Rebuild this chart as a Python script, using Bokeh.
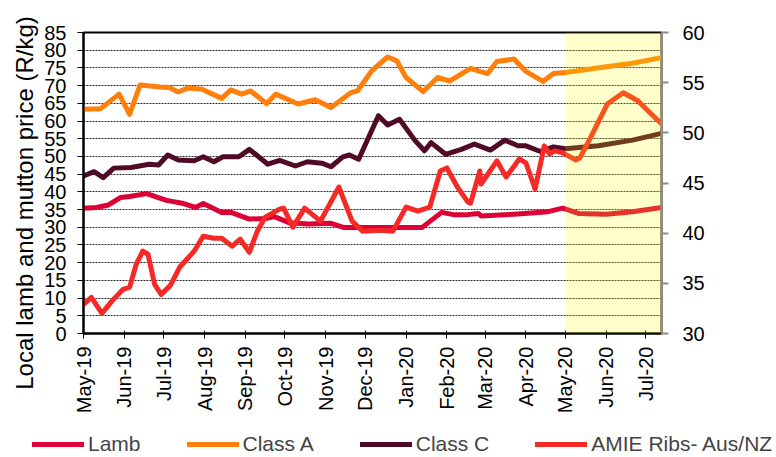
import math
from datetime import datetime
from bokeh.plotting import figure
from bokeh.layouts import row, column
from bokeh.models import (Range1d, LinearAxis, FixedTicker, SingleIntervalTicker,
                          DatetimeTickFormatter, BoxAnnotation, Legend, LegendItem, Label)
from bokeh.embed import file_html
from bokeh.resources import INLINE

# ---------------- data ----------------
month_starts = ["2019-05-01", "2019-06-01", "2019-07-01", "2019-08-01", "2019-09-01",
                "2019-10-01", "2019-11-01", "2019-12-01", "2020-01-01", "2020-02-01",
                "2020-03-01", "2020-04-01", "2020-05-01", "2020-06-01", "2020-07-01"]
month_labels = ["May-19", "Jun-19", "Jul-19", "Aug-19", "Sep-19", "Oct-19", "Nov-19",
                "Dec-19", "Jan-20", "Feb-20", "Mar-20", "Apr-20", "May-20", "Jun-20", "Jul-20"]
x_start = "2019-05-01"
x_end = "2020-07-13"
forecast_start = "2020-05-01"

lamb_dates = ["2019-05-01", "2019-05-11", "2019-05-20", "2019-05-29", "2019-06-05", "2019-06-18",
              "2019-07-03", "2019-07-16", "2019-07-25", "2019-07-31", "2019-08-14", "2019-08-21",
              "2019-09-04", "2019-09-17", "2019-09-23", "2019-10-04", "2019-10-19", "2019-11-05",
              "2019-11-15", "2020-01-13", "2020-01-28", "2020-02-07", "2020-02-15", "2020-02-25",
              "2020-02-27", "2020-03-23", "2020-04-18", "2020-04-29", "2020-05-11", "2020-06-01",
              "2020-06-21", "2020-07-13"]
lamb_values = [35.4, 35.6, 36.3, 38.4, 38.7, 39.5, 37.6, 36.7, 35.6, 36.7, 34.2, 34.2,
               32.3, 32.5, 33.0, 31.3, 30.9, 31.1, 29.9, 29.9, 34.2, 33.5, 33.5, 33.9,
               33.2, 33.7, 34.4, 35.4, 33.9, 33.7, 34.4, 35.6]

class_a_dates = ["2019-05-01", "2019-05-14", "2019-05-28", "2019-06-05", "2019-06-13", "2019-06-28",
                 "2019-07-05", "2019-07-12", "2019-07-19", "2019-07-30", "2019-08-14", "2019-08-21",
                 "2019-08-29", "2019-09-05", "2019-09-17", "2019-09-24", "2019-10-11", "2019-10-24",
                 "2019-11-05", "2019-11-20", "2019-11-25", "2019-12-06", "2019-12-18", "2019-12-25",
                 "2020-01-01", "2020-01-14", "2020-01-25", "2020-02-03", "2020-02-19", "2020-02-26",
                 "2020-03-03", "2020-03-10", "2020-03-23", "2020-04-01", "2020-04-14", "2020-04-22",
                 "2020-05-01", "2020-06-01", "2020-06-21", "2020-07-13"]
class_a_values = [63.3, 63.5, 67.6, 61.9, 70.2, 69.6, 69.5, 68.2, 69.3, 69.0, 66.4, 68.8,
                  67.6, 68.5, 64.9, 67.6, 64.8, 66.0, 63.8, 68.0, 68.5, 74.2, 78.1, 77.0,
                  72.3, 68.3, 72.3, 71.3, 74.9, 74.0, 73.4, 76.8, 77.5, 74.0, 71.2, 73.4,
                  73.7, 75.3, 76.3, 77.9]

class_c_dates = ["2019-05-01", "2019-05-09", "2019-05-16", "2019-05-24", "2019-06-06", "2019-06-20",
                 "2019-06-27", "2019-07-04", "2019-07-12", "2019-07-24", "2019-07-31", "2019-08-08",
                 "2019-08-15", "2019-08-27", "2019-09-04", "2019-09-18", "2019-09-27", "2019-10-09",
                 "2019-10-18", "2019-10-29", "2019-11-05", "2019-11-14", "2019-11-19", "2019-11-26",
                 "2019-12-11", "2019-12-18", "2019-12-27", "2020-01-08", "2020-01-15", "2020-01-20",
                 "2020-01-31", "2020-02-12", "2020-02-22", "2020-03-05", "2020-03-16", "2020-03-26",
                 "2020-04-01", "2020-04-12", "2020-04-22", "2020-05-01", "2020-05-26", "2020-06-21",
                 "2020-07-13"]
class_c_values = [44.5, 45.7, 44.0, 46.7, 46.9, 47.8, 47.6, 50.4, 49.0, 48.8, 49.9, 48.5,
                  49.9, 49.9, 52.0, 47.8, 48.9, 47.3, 48.5, 48.1, 47.1, 49.9, 50.4, 49.2,
                  61.5, 58.9, 60.5, 54.4, 51.6, 53.9, 50.6, 52.0, 53.5, 51.8, 54.6, 53.0,
                  53.0, 51.4, 52.7, 52.2, 53.0, 54.6, 56.5]

amie_dates = ["2019-05-01", "2019-05-07", "2019-05-15", "2019-05-23", "2019-05-31", "2019-06-05",
              "2019-06-10", "2019-06-15", "2019-06-19", "2019-06-24", "2019-06-29", "2019-07-06",
              "2019-07-13", "2019-07-24", "2019-07-31", "2019-08-08", "2019-08-14", "2019-08-22",
              "2019-08-28", "2019-09-04", "2019-09-10", "2019-09-16", "2019-09-27", "2019-09-30",
              "2019-10-07", "2019-10-16", "2019-10-28", "2019-11-11", "2019-11-21", "2019-11-29",
              "2019-12-13", "2019-12-22", "2020-01-01", "2020-01-10", "2020-01-19", "2020-01-27",
              "2020-02-01", "2020-02-09", "2020-02-17", "2020-02-19", "2020-02-26", "2020-02-27",
              "2020-03-10", "2020-03-17", "2020-03-27", "2020-04-01", "2020-04-08", "2020-04-15",
              "2020-04-19", "2020-04-23", "2020-04-29", "2020-05-09", "2020-05-12", "2020-05-20",
              "2020-06-02", "2020-06-14", "2020-06-25", "2020-07-05", "2020-07-13"]
amie_values = [32.9, 33.6, 32.0, 33.3, 34.4, 34.6, 36.9, 38.2, 37.9, 34.9, 33.9, 34.8,
               36.6, 38.2, 39.7, 39.5, 39.5, 38.7, 39.4, 38.1, 40.2, 41.6, 42.4, 42.5,
               40.6, 42.5, 41.2, 44.6, 41.2, 40.2, 40.3, 40.2, 42.6, 42.2, 42.6, 46.2,
               46.5, 44.6, 43.1, 43.0, 46.2, 44.9, 47.2, 45.6, 47.4, 47.0, 44.4, 48.7,
               47.9, 48.2, 48.0, 47.3, 47.5, 49.5, 52.9, 54.0, 53.2, 51.9, 50.9]

left_range = (0, 85)
right_range = (30, 60)
left_title = "Local lamb and mutton price (R/kg)"

series_names = ["Lamb", "Class A", "Class C", "AMIE Ribs- Aus/NZ"]
series_colors = ["#DC0036", "#FF7F0A", "#500A26", "#F52A26"]

# ---------------- helpers ----------------
EPOCH = datetime(1970, 1, 1)


def d(s):
    return datetime.strptime(s, "%Y-%m-%d")


def ms(s):
    return int((d(s) - EPOCH).total_seconds() * 1000)


series = [(lamb_dates, lamb_values, "default"),
          (class_a_dates, class_a_values, "default"),
          (class_c_dates, class_c_values, "default"),
          (amie_dates, amie_values, "right")]

FONT = "Liberation Sans"
W, H = 776, 457
TITLE_W = 40
LEG_H = 34
MAIN_H = H - LEG_H

# ---------------- main chart ----------------
p = figure(width=W - TITLE_W, height=MAIN_H, x_axis_type="datetime", output_backend="svg",
           toolbar_location=None, title=None,
           x_range=Range1d(d(x_start), d(x_end)),
           y_range=Range1d(*left_range),
           min_border_left=83 - TITLE_W, min_border_right=115, min_border_top=32,
           min_border_bottom=MAIN_H - 333)
p.background_fill_color = "white"
p.border_fill_color = "white"
p.outline_line_color = "black"
p.outline_line_width = 2

p.extra_y_ranges = {"right": Range1d(*right_range)}

# grid
p.xgrid.visible = False
p.ygrid.ticker = SingleIntervalTicker(interval=5)
p.ygrid.grid_line_color = "#000000"
p.ygrid.grid_line_dash = "2 1"
p.ygrid.grid_line_width = 1
p.ygrid.grid_line_alpha = 0.85

# x axis
xa = p.xaxis[0]
xa.ticker = FixedTicker(ticks=[ms(s) for s in month_starts])
fmt = "%b-%y"
xa.formatter = DatetimeTickFormatter(milliseconds=fmt, seconds=fmt, minsec=fmt, minutes=fmt,
                                     hourmin=fmt, hours=fmt, days=fmt, months=fmt, years=fmt)
xa.major_label_overrides = {ms(s): lab for s, lab in zip(month_starts, month_labels)}
xa.major_label_orientation = math.pi / 2
xa.major_label_text_font = FONT
xa.major_label_text_font_size = "20px"
xa.major_label_text_color = "black"
xa.major_label_standoff = 8
xa.axis_line_color = "black"
xa.axis_line_width = 2
xa.major_tick_line_color = "black"
xa.major_tick_line_width = 1
xa.major_tick_in = 3
xa.major_tick_out = 5
xa.minor_tick_line_color = None

# left axis
ya = p.yaxis[0]
ya.ticker = SingleIntervalTicker(interval=5)
ya.major_label_text_font = FONT
ya.major_label_text_font_size = "20px"
ya.major_label_text_color = "black"
ya.major_label_standoff = 11
ya.axis_line_color = "black"
ya.axis_line_width = 2
ya.major_tick_line_color = "black"
ya.major_tick_in = 0
ya.major_tick_out = 6
ya.minor_tick_line_color = None

# right axis
ra = LinearAxis(y_range_name="right", ticker=SingleIntervalTicker(interval=5))
ra.major_label_text_font = FONT
ra.major_label_text_font_size = "20px"
ra.major_label_text_color = "black"
ra.major_label_standoff = 14
ra.axis_line_color = "#8C8C8C"
ra.axis_line_width = 2
ra.major_tick_line_color = "#8C8C8C"
ra.major_tick_line_width = 2
ra.major_tick_in = 0
ra.major_tick_out = 7
ra.minor_tick_line_color = None
p.add_layout(ra, "right")

# lines
line_kw = dict(line_width=5, line_join="round", line_cap="round")
for (dates, vals, rng), col in zip(series, series_colors):
    p.line([d(s) for s in dates], vals, line_color=col, y_range_name=rng, **line_kw)

# forecast shading (drawn over the lines, semi-transparent)
box = BoxAnnotation(left=d(forecast_start), fill_color="#FFFF00", fill_alpha=0.2,
                    line_color=None)
p.add_layout(box)

# ---------------- left title strip ----------------
pt = figure(width=TITLE_W, height=MAIN_H, output_backend="svg", toolbar_location=None,
            title=None, x_range=Range1d(0, TITLE_W), y_range=Range1d(MAIN_H, 0),
            x_axis_location=None, y_axis_location=None, min_border=0)
pt.frame_align = False
pt.outline_line_color = None
pt.grid.visible = False
pt.add_layout(Label(x=24, y=202.5, text=left_title, angle=math.pi / 2,
                    text_align="center", text_baseline="middle",
                    text_font=FONT, text_font_size="24px", text_color="black"))

# ---------------- legend strip ----------------
# the legend keys re-use the series, drawn outside this strip's visible range
pl = figure(width=W, height=LEG_H, output_backend="svg", toolbar_location=None,
            title=None, x_range=Range1d(0, 1), y_range=Range1d(0, 1),
            x_axis_location=None, y_axis_location=None, min_border=0)
pl.frame_align = False
pl.outline_line_color = None
pl.grid.visible = False
keys = [pl.line([ms(s) for s in dates], vals, line_color=col, **line_kw)
        for (dates, vals, rng), col in zip(series, series_colors)]
items = [LegendItem(label=n, renderers=[r]) for n, r in zip(series_names, keys)]
legend = Legend(items=items, orientation="horizontal", location=(32, 1),
                spacing=46, glyph_width=52, glyph_height=20, label_standoff=4,
                label_text_font=FONT, label_text_font_size="21px",
                label_height=20, padding=0, margin=0,
                border_line_color=None, background_fill_alpha=0)
pl.add_layout(legend)

layout = column(row(pt, p, spacing=0), pl, spacing=0)
open("out.html", "w").write(file_html(layout, INLINE))
